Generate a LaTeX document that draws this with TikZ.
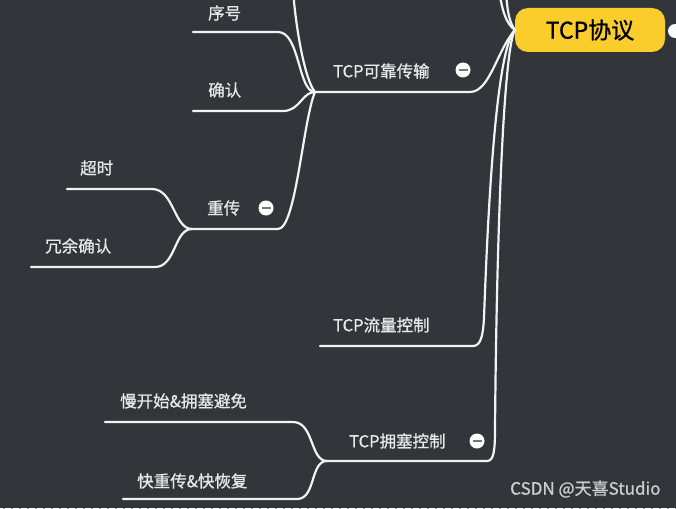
\documentclass[tikz,border=0pt]{standalone}
\usepackage{fontspec}
\setmainfont{Noto Sans CJK SC}[FakeBold=0.9]

\begin{document}
\begin{tikzpicture}[
  x=1pt, y=-1pt,
  branch/.style={draw=cLine, line width=2.2pt, line cap=round, line join=round},
  label/.style={anchor=west, inner sep=0pt, text=cText, font=\fontsize{16.5}{18}\selectfont},
  minusbtn/.style={
    circle, fill=white, minimum size=15pt, inner sep=0pt,
    path picture={\draw[line width=2.2pt, cMinus]
      ([xshift=-4.5pt]path picture bounding box.center) --
      ([xshift=4.5pt]path picture bounding box.center);}
  },
  rootbox/.style={
    rectangle, rounded corners=13pt, fill=cRoot, minimum width=150pt,
    minimum height=44pt, inner sep=0pt, font=\fontsize{23}{26}\selectfont
  }
]

  % Colors
  \definecolor{cBg}{RGB}{50,54,58}      % dark canvas
  \definecolor{cDot}{RGB}{42,46,50}     % grid dots
  \definecolor{cLine}{RGB}{242,242,242} % branch lines
  \definecolor{cText}{RGB}{232,232,232}
  \definecolor{cRoot}{RGB}{250,205,45}  % yellow root
  \definecolor{cMinus}{RGB}{120,120,120}
  \definecolor{cMark}{RGB}{205,205,205}

  % Canvas
  \useasboundingbox (0,0) rectangle (676,508);
  \clip (0,0) rectangle (676,508);
  \fill[cBg] (0,0) rectangle (676,508);
  \foreach \gx in {4,12,...,676}
    \foreach \gy in {4,12,...,508}
      \fill[cDot] (\gx,\gy) circle (0.9);

  % --- ROOT ---
  \node[rootbox] (root) at (590,30) {TCP协议};
  \node[circle, fill=white, minimum size=14pt, inner sep=0pt] (rootbtn) at (675,31) {};
  \coordinate (rootW) at (515,30);

  % --- BRANCH: TCP可靠传输 ---
  \coordinate (kkL) at (315,92);
  \coordinate (kkR) at (470,92);
  \node[label] (kk) at (333,71) {TCP可靠传输};
  \node[minusbtn] (kkbtn) at (463,70) {};

  % children of TCP可靠传输
  \coordinate (xhL) at (193,32);
  \coordinate (xhR) at (278,32);
  \node[label] (xh) at (208,13) {序号};

  \coordinate (qrL) at (193,111);
  \coordinate (qrR) at (283,111);
  \node[label] (qr) at (208,90) {确认};

  \coordinate (ccL) at (192,229);
  \coordinate (ccR) at (278,229);
  \node[label] (cc) at (207,208) {重传};
  \node[minusbtn] (ccbtn) at (266,208) {};

  % children of 重传
  \coordinate (csL) at (67,189);
  \coordinate (csR) at (152,189);
  \node[label] (cs) at (80,168) {超时};

  \coordinate (ryL) at (31,267);
  \coordinate (ryR) at (155,267);
  \node[label] (ry) at (45,246) {冗余确认};

  % --- BRANCH: TCP流量控制 ---
  \coordinate (llL) at (320,346);
  \coordinate (llR) at (473,346);
  \node[label] (ll) at (333,325) {TCP流量控制};

  % --- BRANCH: TCP拥塞控制 ---
  \coordinate (ysL) at (327,461);
  \coordinate (ysR) at (487,461);
  \node[label] (ys) at (349,441) {TCP拥塞控制};
  \node[minusbtn] (ysbtn) at (477,441) {};

  % children of TCP拥塞控制
  \coordinate (mkL) at (105,422);
  \coordinate (mkR) at (293,422);
  \node[label] (mk) at (120,401) {慢开始\&拥塞避免};

  \coordinate (kcL) at (123,499);
  \coordinate (kcR) at (297,499);
  \node[label] (kc) at (137,481) {快重传\&快恢复};

  % --- CONNECTORS ---
  % root to its branches (two of them run off the top)
  \draw[branch] (rootW) .. controls (506,24) and (502,10) .. (499,-10);
  \draw[branch] (rootW) .. controls (509,22) and (507,10) .. (506,-10);
  \draw[branch] (kkL) -- (kkR) .. controls (490,92) and (497,50) .. (rootW);
  \draw[branch] (llL) -- (llR) .. controls (481,346) and (483,335) .. (484,318)
    .. controls (490,150) and (500,45) .. (rootW);
  \draw[branch] (ysL) -- (ysR) .. controls (494,461) and (495,450) .. (495,428)
    .. controls (497,200) and (505,45) .. (rootW);

  % TCP可靠传输 to its children (one runs off the top)
  \draw[branch] (kkL) .. controls (305,80) and (296,30) .. (293,-10);
  \draw[branch] (xhL) -- (xhR) .. controls (300,32) and (298,92) .. (kkL);
  \draw[branch] (qrL) -- (qrR) .. controls (300,111) and (302,92) .. (kkL);
  \draw[branch] (ccL) -- (ccR) .. controls (296,229) and (303,120) .. (kkL);

  % 重传 to its children
  \draw[branch] (csL) -- (csR) .. controls (174,189) and (174,229) .. (ccL);
  \draw[branch] (ryL) -- (ryR) .. controls (176,267) and (174,229) .. (ccL);

  % TCP拥塞控制 to its children
  \draw[branch] (mkL) -- (mkR) .. controls (314,422) and (310,461) .. (ysL);
  \draw[branch] (kcL) -- (kcR) .. controls (316,499) and (310,461) .. (ysL);

  % Watermark
  \node[anchor=west, inner sep=0pt, text=cMark, font=\fontsize{17}{19}\selectfont] (mark)
    at (510,489) {CSDN @天喜Studio};

\end{tikzpicture}
\end{document}
